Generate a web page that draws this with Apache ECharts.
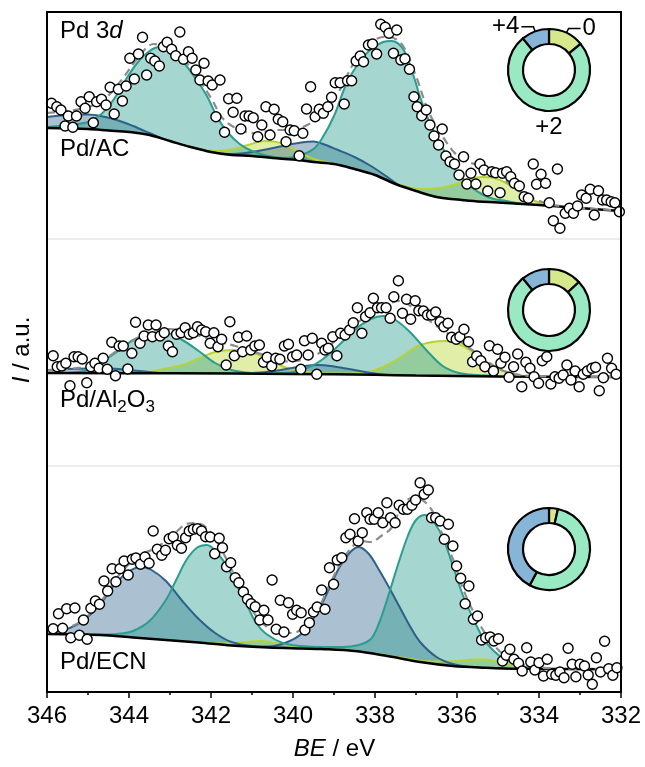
<!DOCTYPE html>
<html>
<head>
<meta charset="utf-8">
<script src="https://cdn.jsdelivr.net/npm/echarts@6/dist/echarts.min.js"></script>
<style>
  html, body { margin: 0; padding: 0; background: #fff; }
  #grafico { width: 645px; height: 767px; }
</style>
</head>
<body>
<div id="grafico"></div>
<script>
// x = binding energy (eV), y = intensity in a.u. (each panel has its own scale)
var beMin = 332, beMax = 346;
var stateNames = ['0', '+2', '+4'];   // pie order: Pd0, Pd2+, Pd4+

// ---- Pd/AC ----
var acPoints = [[345.89,135.7],[345.76,132.3],[345.66,129],[345.56,113],[345.48,123],[345.37,111.7],[345.28,123],[345.17,137.3],[345.07,130.7],[344.97,142.3],[344.87,116.3],[344.79,137.3],[344.67,139.7],[344.56,134],[344.46,151.7],[344.36,125],[344.26,149.7],[344.16,138],[344.07,153],[343.98,180.7],[343.87,160],[343.77,185],[343.67,201.7],[343.57,164],[343.47,180.7],[343.37,178],[343.26,173],[343.16,192.3],[343.07,196.7],[342.96,189.7],[342.86,183.3],[342.76,207],[342.67,179.7],[342.55,187.3],[342.46,180.7],[342.37,169],[342.27,159],[342.17,175.7],[342.07,158],[341.97,154],[341.88,122.3],[341.78,159],[341.67,106.7],[341.57,140.3],[341.46,126.7],[341.37,140.7],[341.27,110],[341.17,123],[341.07,123],[340.97,121.3],[340.86,102.3],[340.76,114],[340.66,132.3],[340.56,104],[340.46,129.7],[340.36,119.7],[340.25,117.3],[340.17,97.3],[340.07,109],[339.97,108.3],[339.85,83.3],[339.76,105.7],[339.67,130],[339.57,152.3],[339.46,122.3],[339.36,129.7],[339.26,125.7],[339.15,132.3],[339.06,141.7],[338.97,156.3],[338.85,156.3],[338.75,135],[338.67,158.3],[338.57,158.3],[338.46,178],[338.36,183],[338.28,177.3],[338.16,194],[338.06,195],[337.96,185],[337.86,214.7],[337.75,211.7],[337.66,205.7],[337.55,185.7],[337.47,209],[337.37,179],[337.27,180.3],[337.16,169.7],[337.05,142.3],[336.97,132.3],[336.86,123.3],[336.75,129],[336.66,114],[336.56,103],[336.45,94],[336.36,110],[336.27,83],[336.17,77.3],[336.06,75],[335.95,64],[335.84,82.3],[335.76,55],[335.66,65.7],[335.54,55],[335.44,75],[335.34,69],[335.25,48],[335.15,67.3],[335.06,66.3],[334.95,46.3],[334.89,65.7],[334.79,67.3],[334.69,62.3],[334.6,55.7],[334.48,53],[334.36,42.3],[334.26,40.7],[334.14,75],[334.06,54.7],[333.95,64.7],[333.84,55.7],[333.75,36.3],[333.65,18.3],[333.55,70],[333.49,10.7],[333.36,25.7],[333.26,30.7],[333.16,25.7],[333.06,33],[332.96,44],[332.85,40.7],[332.75,49.7],[332.65,24],[332.55,48.3],[332.45,39],[332.35,39],[332.24,37.3],[332.15,36.3],[332.04,27.3]];
var acBackground = [[346,111],[345,110],[344.5,108.5],[344,107],[343.5,104],[343,98],[342.5,92],[342,87],[341.5,84],[341,83],[340.5,81],[340,79.5],[339.5,77],[339,75],[338.5,70],[338,64],[337.5,55],[337,48],[336.5,42],[336,39.5],[335.5,37.5],[335,36.5],[334,34],[333,31],[332,28]];
var acPd2 = [[346,112],[345.5,114],[345,117],[344.7,124],[344.4,138],[344.1,158],[343.8,176],[343.5,188],[343.25,192],[343.0,189],[342.7,178],[342.4,162],[342.1,143],[341.85,122],[341.6,107],[341.3,95],[341.0,88],[340.6,83],[340.2,81],[339.8,84],[339.5,90],[339.3,100],[339.0,123],[338.7,155],[338.4,176],[338.1,190],[337.8,197],[337.6,198],[337.3,189],[337.05,162],[336.9,142],[336.65,115],[336.4,95],[336.15,76],[335.9,62],[335.65,52],[335.4,45],[335.1,40],[334.8,38],[334.4,35]];
var acPd4 = [[346,122],[345.5,124],[345,124.5],[344.7,123],[344.3,119],[343.9,113],[343.5,106],[343.1,99],[342.8,95],[342.5,92],[342.2,88.5],[341.8,85.5],[341.45,85],[341.0,87],[340.6,90],[340.2,93.5],[339.8,96.5],[339.5,97.5],[339.3,95.5],[338.9,89],[338.5,82],[338.1,73],[337.7,62],[337.4,53]];
var acPd0 = [[342.8,95],[342.3,90],[341.9,88],[341.5,89.5],[341.1,94],[340.7,98],[340.3,96],[339.9,88],[339.5,80],[339.1,76],[338.6,71],[338.1,65],[337.6,57],[337.2,52],[336.9,50],[336.5,50.5],[336.1,54],[335.7,59.5],[335.4,62],[335.1,61],[334.8,56],[334.5,48],[334.1,38],[333.7,33],[333.3,31.5]];
var acEnvelope = [[346,126],[345.5,128],[345,132],[344.6,140],[344.2,158],[343.8,180],[343.4,195],[343.1,192],[342.8,185],[342.4,166],[342.0,141],[341.7,120],[341.3,109],[340.9,106],[340.5,109],[340.1,109],[339.7,113],[339.3,125],[338.9,146],[338.5,177],[338.1,196],[337.8,202],[337.55,201],[337.3,192],[337.0,163],[336.7,128],[336.4,106],[336.1,88],[335.8,78],[335.5,74],[335.2,68],[334.9,61],[334.6,51],[334.2,42],[333.8,35.5],[333.3,32],[332.6,30],[332,28]];
var acShares = [14, 75, 11];

// ---- Pd/Al2O3 ----
var alPoints = [[345.85,110.3],[345.75,99.3],[345.64,100],[345.54,102.7],[345.44,80.3],[345.34,109.3],[345.24,109.3],[345.14,107],[345.03,83.3],[344.93,99.3],[344.83,102.7],[344.73,97.7],[344.63,107.7],[344.53,96.7],[344.42,123.7],[344.33,90.3],[344.24,120],[344.14,120],[344.03,97],[343.93,112.7],[343.84,143.7],[343.73,122.7],[343.63,130],[343.53,141],[343.43,129.3],[343.34,141],[343.24,130],[343.14,133.3],[343.04,120],[342.94,114.3],[342.84,131.7],[342.73,133.3],[342.63,138.3],[342.53,131.7],[342.43,133.3],[342.33,139.3],[342.23,136],[342.13,134.3],[342.02,122.7],[341.93,133.3],[341.83,119.3],[341.74,126.7],[341.63,101],[341.54,144.3],[341.43,110.3],[341.33,128.7],[341.23,114.3],[341.13,130],[341.03,116],[340.93,120],[340.82,121],[340.72,103.7],[340.63,108.7],[340.52,100],[340.42,107.7],[340.32,106.7],[340.21,120],[340.11,121.7],[340.01,109.3],[339.91,111],[339.81,96.7],[339.72,125.3],[339.63,111],[339.53,127.7],[339.42,91.7],[339.3,122.7],[339.22,116],[339.14,117.7],[339.03,129.3],[338.93,110.3],[338.84,132.7],[338.73,131],[338.62,136],[338.53,143.3],[338.43,158.3],[338.32,132.7],[338.23,149.3],[338.12,153.3],[338.04,167.7],[337.94,158.3],[337.84,158.3],[337.73,158.3],[337.63,147.7],[337.54,169.3],[337.43,185.3],[337.33,152.7],[337.23,166.7],[337.13,146.7],[337.02,165.3],[336.93,155.3],[336.82,155],[336.72,151],[336.62,151],[336.52,154],[336.41,144.3],[336.32,139.3],[336.22,142.7],[336.13,128.7],[336.02,126.7],[335.93,129.3],[335.83,136.7],[335.72,124.3],[335.62,104.3],[335.52,110],[335.42,105.3],[335.32,99.3],[335.21,120.3],[335.11,95],[335.01,116.7],[334.93,102.7],[334.83,108.7],[334.73,88.7],[334.62,99.3],[334.52,112],[334.42,79.3],[334.32,103.7],[334.22,97.7],[334.12,89.3],[334.01,82.7],[333.92,105.3],[333.81,109.3],[333.71,82],[333.61,89.3],[333.51,87.7],[333.41,91],[333.32,101],[333.22,86],[333.12,95],[333.02,79.3],[332.92,91.7],[332.82,95],[332.71,97.7],[332.62,98.7],[332.53,75.3],[332.43,88.3],[332.33,107.7],[332.23,97.7],[332.12,91.7]];
var alBackground = [[346,93],[343,92.7],[340,92],[338,91.2],[337,90.5],[335,89.5],[332,89]];
var alPd2 = [[345.5,93],[345,96],[344.7,103],[344.3,114],[343.9,126],[343.5,132],[343.1,133],[342.7,126],[342.3,115],[341.9,103],[341.5,96],[341.0,93],[340.5,92.5],[340.0,94],[339.6,99],[339.3,106],[338.9,120],[338.5,136],[338.1,147],[337.8,150],[337.5,146],[337.15,134],[336.75,116],[336.35,100],[335.95,93],[335.5,91],[335,90],[334.5,89]];
var alPd4 = [[346,96],[345.5,97],[345,97.5],[344.5,97.5],[344,96],[343.5,94],[343,92.5],[341.5,92.2],[340.8,93.5],[340.3,96],[339.8,99.5],[339.4,101],[339,99.5],[338.5,96],[338.1,93],[337.6,90.5]];
var alPd0 = [[343.6,92.5],[343.1,97.5],[342.7,101],[342.3,107.5],[341.9,114],[341.45,116],[341.05,114],[340.65,108],[340.25,99.5],[339.85,95],[339.3,93],[338.6,92.5],[338.1,94.5],[337.7,101],[337.3,111],[336.9,121],[336.3,125],[335.85,120],[335.45,109],[335.05,98],[334.6,92],[334.2,89]];
var alEnvelope = [[346,96],[345.5,97],[345,100],[344.6,107],[344.2,118],[343.8,128],[343.4,135],[343.0,137],[342.6,134],[342.2,129],[341.8,124],[341.4,120],[341.0,115],[340.6,109.5],[340.2,104.5],[339.8,106],[339.4,112],[339.0,124],[338.6,138],[338.2,150],[337.8,160],[337.4,165],[337.0,156],[336.6,143],[336.2,132],[335.8,121],[335.4,109],[335.0,97.5],[334.6,92],[334.2,90],[333.5,89.5],[332,89]];
var alShares = [13, 76, 11];

// ---- Pd/ECN ----
var ecnPoints = [[345.85,63.3],[345.72,78.3],[345.62,63.7],[345.52,83.3],[345.42,54.3],[345.32,84],[345.21,56.7],[345.11,72],[345.02,52.7],[344.93,83.7],[344.82,91],[344.72,87.7],[344.61,111],[344.52,101],[344.41,123.3],[344.32,110.3],[344.22,123.3],[344.12,131],[344.02,117],[343.92,132.7],[343.83,134],[343.72,127.7],[343.61,135],[343.51,128.7],[343.41,161],[343.31,142.7],[343.2,136.7],[343.11,141.7],[343.02,153.3],[342.92,155.3],[342.82,146.7],[342.72,143.7],[342.62,154.3],[342.53,161],[342.43,162.7],[342.33,163.3],[342.23,161],[342.13,155.3],[342.02,155],[341.91,138.3],[341.8,153.7],[341.72,144.3],[341.62,125.3],[341.52,129.3],[341.41,114.3],[341.32,109.3],[341.21,100],[341.11,92.7],[341.02,88.3],[340.92,85.3],[340.81,72],[340.71,81.7],[340.61,72],[340.51,112],[340.41,62.7],[340.31,91.7],[340.22,60],[340.11,89.3],[340.01,77.7],[339.91,81.7],[339.8,79.3],[339.71,62],[339.6,69.3],[339.5,80],[339.41,85],[339.3,102],[339.22,82.7],[339.11,124.3],[339.01,107.7],[338.92,132],[338.81,134.3],[338.71,154.3],[338.61,157.7],[338.5,173.3],[338.41,151],[338.31,159.3],[338.2,179.3],[338.12,172.7],[338.02,172.7],[337.92,179.3],[337.81,169.3],[337.71,189.3],[337.62,174.3],[337.51,169.3],[337.41,186.7],[337.31,182.7],[337.21,182.7],[337.1,186.7],[337.01,192],[336.9,209.3],[336.8,197.7],[336.7,202],[336.62,174.3],[336.52,174.3],[336.41,171],[336.31,152.7],[336.21,167.7],[336.1,146],[336.01,126],[335.91,113.7],[335.8,88.3],[335.71,106],[335.6,72.7],[335.5,76],[335.4,52],[335.3,54.3],[335.19,55],[335.1,51],[334.99,53.3],[334.89,31],[334.8,36.7],[334.71,42.7],[334.61,32.7],[334.5,28.7],[334.41,21],[334.3,44.3],[334.2,30],[334.1,22],[334.0,29.3],[333.89,16],[333.8,32.7],[333.69,17.7],[333.59,16.7],[333.49,20],[333.39,14.3],[333.29,43.7],[333.19,27.7],[333.1,15.3],[333.0,27.7],[332.89,26],[332.8,17],[332.7,7.7],[332.6,34.3],[332.5,20],[332.4,50.7],[332.3,23.3],[332.2,16.7],[332.1,24.3]];
var ecnBackground = [[346,58],[344.7,57],[343.9,54.5],[343.1,52],[342.3,49.5],[341.5,46.5],[340.6,44.5],[339.8,43.5],[339.3,43],[338.5,41],[337.7,36],[336.9,30],[336.1,26],[335.3,24.3],[334.5,23.3],[332,22.7]];
var ecnPd2 = [[346,58],[345,57.5],[344.5,57.5],[344.2,58.5],[343.9,61],[343.5,71],[343.1,92],[342.85,112],[342.6,132],[342.35,144],[342.1,147],[341.85,139],[341.6,125],[341.35,105],[341.1,85],[340.9,69],[340.65,58],[340.25,49],[339.8,46],[339.3,45],[338.8,45],[338.4,47],[338.1,53],[337.9,69],[337.7,93],[337.45,126],[337.2,156],[337.0,172],[336.78,177],[336.55,169],[336.33,153],[336.1,126],[335.85,96],[335.6,73],[335.35,53],[335.1,41],[334.85,33],[334.45,26],[334,23]];
var ecnPd4 = [[346,59],[345.5,63],[345.1,72],[344.7,88],[344.3,110],[343.95,122],[343.7,125],[343.45,122],[343.1,111],[342.7,91],[342.3,73],[341.9,59],[341.5,50],[341.0,46],[340.6,45.5],[340.2,49],[339.8,58],[339.4,80],[339.1,105],[338.85,126],[338.6,140],[338.4,145],[338.15,138],[337.9,122],[337.65,104],[337.4,85],[337.15,66],[336.9,50],[336.5,35],[336.1,28],[335.7,25],[335.3,24]];
var ecnPd0 = [[342.2,49.3],[341.6,48.5],[341.2,50],[340.8,51],[340.4,48.7],[340,45.7],[339.6,43.8],[339,42.6],[338.5,41.3],[337.7,36.5],[337.2,33.5],[336.8,31],[336.4,30.5],[336,31],[335.6,32.5],[335.3,32.5],[335,30],[334.6,26.5],[334.2,24],[333.8,23.2]];
var ecnEnvelope = [[346,59.5],[345.5,64],[345.1,73],[344.7,89.5],[344.3,114],[343.95,130],[343.7,138],[343.45,142],[343.1,151],[342.85,160],[342.6,168],[342.35,169],[342.1,164],[341.85,150],[341.6,131],[341.35,110],[341.1,90],[340.9,76],[340.6,64],[340.3,59.5],[340.0,59],[339.7,66.5],[339.4,82],[339.1,108],[338.85,128],[338.6,143],[338.35,151],[338.1,150],[337.85,156],[337.6,164],[337.35,185],[337.1,194],[336.85,192],[336.6,181],[336.35,157],[336.1,133],[335.85,103],[335.6,80],[335.35,61],[335.1,47],[334.85,37],[334.5,29],[334,24.5],[333,23],[332,22.7]];
var ecnShares = [3.5, 54.3, 42.2];

var FONT = 'Liberation Sans, Arial, Helvetica, sans-serif';
var FS = 24;
var panelTops = [12, 239, 466];
var panelHeights = [227, 227, 226];
var pieCenters = [[549, 70], [549, 310], [549, 549]];
var pieColors = ['#d5e98c', '#99e9c2', '#86b5d7'];

var chartDom = document.getElementById('grafico');
var myChart = echarts.init(chartDom);

function curve(data, idx, color, fill, extra) {
  var s = {
    type: 'line', xAxisIndex: idx, yAxisIndex: idx, data: data,
    smooth: 0.35, symbol: 'none', silent: true, z: 2,
    lineStyle: { color: color, width: 2 }
  };
  if (fill) s.areaStyle = { color: fill, opacity: 1, origin: 'start' };
  if (extra) Object.assign(s, extra);
  return s;
}

function panelSeries(idx, p) {
  return [
    curve(p.pd0, idx, '#b5d433', 'rgba(180,215,45,0.42)'),
    curve(p.pd4, idx, '#2e6189', 'rgba(46,97,137,0.40)'),
    curve(p.pd2, idx, '#2a9d8e', 'rgba(42,157,142,0.42)'),
    // shirley-type background: white fill hides everything below it
    curve(p.bg, idx, '#000', '#fff', { lineStyle: { color: '#000', width: 2.5 }, z: 3 }),
    curve(p.env, idx, '#8c8c8c', null, { lineStyle: { color: '#8c8c8c', width: 2.2, type: [8, 5] }, z: 4 }),
    {
      type: 'scatter', xAxisIndex: idx, yAxisIndex: idx, data: p.points,
      symbol: 'circle', symbolSize: 10, silent: true, z: 5,
      itemStyle: { color: '#fff', borderColor: '#000', borderWidth: 1.4, opacity: 1 }
    }
  ];
}

function pieSeries(shares, center, withLabels) {
  return {
    type: 'pie', center: center, radius: [26, 41], silent: true,
    startAngle: 90, clockwise: true, avoidLabelOverlap: false, z: 6,
    itemStyle: { borderColor: '#000', borderWidth: 2.2 },
    label: {
      show: withLabels, position: 'outside', formatter: '{b}',
      color: '#000', fontSize: FS, fontFamily: FONT, distanceToLabelLine: 2
    },
    labelLine: {
      show: withLabels, length: 5, length2: 12, smooth: false,
      lineStyle: { color: '#000', width: 1.5 }
    },
    labelLayout: withLabels ? function (p) {
      if (p.dataIndex === 1) return { dy: 57 };
    } : undefined,
    emphasis: { disabled: true },
    data: stateNames.map(function (n, i) {
      var d = { name: n, value: shares[i], itemStyle: { color: pieColors[i] } };
      if (i === 1) {
        d.label = { position: 'center' };
        d.labelLine = { show: false };
      }
      return d;
    })
  };
}

var panels = [
  { points: acPoints, bg: acBackground, pd2: acPd2, pd4: acPd4, pd0: acPd0, env: acEnvelope },
  { points: alPoints, bg: alBackground, pd2: alPd2, pd4: alPd4, pd0: alPd0, env: alEnvelope },
  { points: ecnPoints, bg: ecnBackground, pd2: ecnPd2, pd4: ecnPd4, pd0: ecnPd0, env: ecnEnvelope }
];

var grids = [], xAxes = [], yAxes = [], series = [];
panels.forEach(function (p, i) {
  grids.push({ left: 47, top: panelTops[i], width: 574, height: panelHeights[i], containLabel: false, outerBoundsMode: 'none' });
  var last = i === panels.length - 1;
  xAxes.push({
    gridIndex: i, type: 'value', min: beMin, max: beMax, interval: 2, inverse: true,
    show: last,
    axisLine: { show: true, lineStyle: { color: '#000', width: 2 } },
    axisTick: { show: true, length: 6, lineStyle: { color: '#000', width: 1.5 } },
    minorTick: { show: true, splitNumber: 2, length: 3, lineStyle: { color: '#000', width: 1.5 } },
    axisLabel: { color: '#000', fontSize: FS, fontFamily: FONT, margin: 12 },
    splitLine: { show: false }
  });
  yAxes.push({
    gridIndex: i, type: 'value', min: 0, max: panelHeights[i], show: false,
    splitLine: { show: false }
  });
  series = series.concat(panelSeries(i, p));
});
series.push(pieSeries(acShares, pieCenters[0], true));
series.push(pieSeries(alShares, pieCenters[1], false));
series.push(pieSeries(ecnShares, pieCenters[2], false));

function label(text, x, y, rich, extra) {
  var el = {
    type: 'text', x: x, y: y, z: 50, silent: true,
    style: {
      text: text, fill: '#000', fontSize: FS, fontFamily: FONT,
      align: 'left', verticalAlign: 'middle', rich: rich || {}
    }
  };
  if (extra) Object.assign(el, extra);
  return el;
}
var italic = { i: { fontStyle: 'italic', fontSize: FS, fontFamily: FONT, fill: '#000' } };

var option = {
  animation: false,
  backgroundColor: '#fff',
  grid: grids,
  xAxis: xAxes,
  yAxis: yAxes,
  series: series,
  graphic: [
    { type: 'line', shape: { x1: 47, y1: 239, x2: 621, y2: 239 }, style: { stroke: '#d9d9d9', lineWidth: 1 }, z: 40, silent: true },
    { type: 'line', shape: { x1: 47, y1: 466, x2: 621, y2: 466 }, style: { stroke: '#d9d9d9', lineWidth: 1 }, z: 40, silent: true },
    { type: 'rect', shape: { x: 47, y: 12, width: 574, height: 680 }, style: { fill: null, stroke: '#000', lineWidth: 2 }, z: 41, silent: true },
    label('Pd 3{i|d}', 60, 31, italic),
    label('Pd/AC', 60, 149),
    label('{n|Pd/Al}{s|2}{n|O}{s|3}', 60, 400, {
      n: { fontSize: FS, fontFamily: FONT, lineHeight: 24, verticalAlign: 'top', fill: '#000' },
      s: { fontSize: 17, fontFamily: FONT, lineHeight: 17, verticalAlign: 'top', padding: [11, 0, 0, 0], fill: '#000' }
    }),
    label('Pd/ECN', 60, 662.5),
    label('{i|I} / a.u.', 22, 350, italic, { rotation: Math.PI / 2, style: {
      text: '{i|I} / a.u.', fill: '#000', fontSize: FS, fontFamily: FONT,
      align: 'center', verticalAlign: 'middle', rich: italic } }),
    label('{i|BE} / eV', 334.5, 749.5, italic, { style: {
      text: '{i|BE} / eV', fill: '#000', fontSize: FS, fontFamily: FONT,
      align: 'center', verticalAlign: 'middle', rich: italic } })
  ]
};

option && myChart.setOption(option);
</script>
</body>
</html>
